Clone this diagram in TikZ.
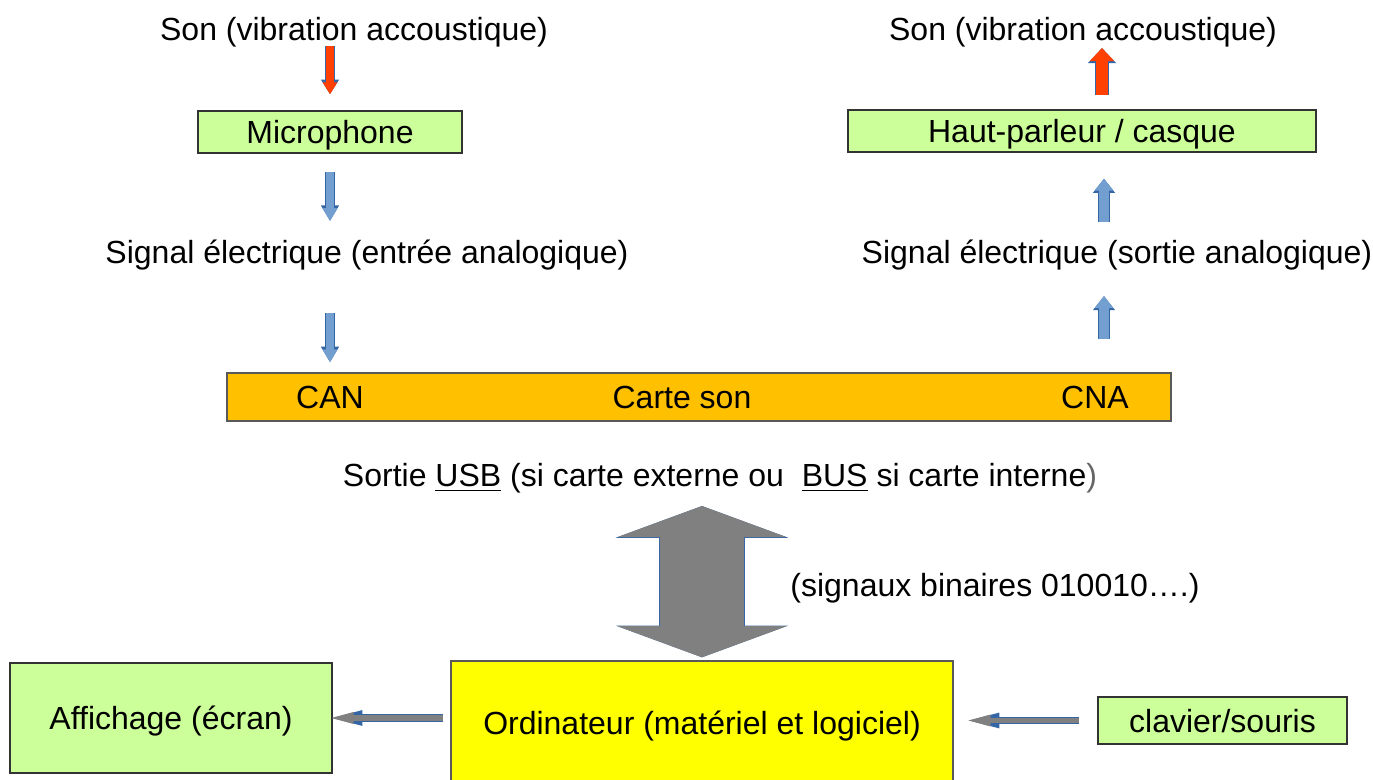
\documentclass[tikz,border=0pt]{standalone}
\usepackage{fontspec}
\setmainfont{Liberation Sans}
\usetikzlibrary{arrows.meta}
\definecolor{vertclair}{HTML}{CCFF99}
\definecolor{orangecarte}{HTML}{FFC000}
\definecolor{jauneordi}{HTML}{FFFF00}
\definecolor{rougefleche}{HTML}{FF4000}
\definecolor{bleufleche}{HTML}{729FCF}
\definecolor{grisfleche}{HTML}{808080}
\definecolor{bordfleche}{HTML}{3465A4}
\begin{document}
\begin{tikzpicture}[x=0.5pt, y=-0.5pt,
    every node/.style={font=\fontsize{16}{19}\selectfont},
    texte/.style={inner sep=0pt, anchor=base},
    boite/.style={draw=black!80, line width=0.7pt, inner sep=0pt, text depth=0pt},
    fleche/.style n args={4}{draw=#4, line width=#1,
        -{Triangle[length=0pt #3, width=0pt #2]},
        preaction={draw=bordfleche, line width=#1+0.9pt}}]
    \useasboundingbox (0,0) rectangle (1373,780);
    % chaine d'entree
    \node[texte] (son1) at (354,41) {Son (vibration accoustique)};
    \node[boite, fill=vertclair, minimum width=132pt, minimum height=21pt] (micro) at (330,132) {Microphone};
    \node[texte] (sig1) at (367,264) {Signal électrique (entrée analogique)};
    % carte son
    \node[boite, fill=orangecarte, draw=black!65, minimum width=472pt, minimum height=24pt] (carte) at (699,397) {};
    \node[texte] (can) at (330,409) {CAN};
    \node[texte] (carteson) at (682,409) {Carte son};
    \node[texte] (cna) at (1095,409) {CNA};
    % chaine de sortie
    \node[texte] (son2) at (1083,41) {Son (vibration accoustique)};
    \node[boite, fill=vertclair, minimum width=234pt, minimum height=21pt] (hp) at (1082,131) {Haut-parleur / casque};
    \node[texte] (sig2) at (1117,264) {Signal électrique (sortie analogique)};
    % liaison avec l'ordinateur
    \node[texte] (usb) at (720,487) {Sortie \underline{USB} (si carte externe ou\ \ \underline{BUS} si carte interne{\color{black!60})}};
    \node[texte] (binaire) at (995,597) {(signaux binaires 010010….)};
    \node[boite, fill=jauneordi, draw=black!65, minimum width=251pt, minimum height=62pt] (ordi) at (702,723) {Ordinateur (matériel et logiciel)};
    \node[boite, fill=vertclair, minimum width=161pt, minimum height=55pt] (affich) at (171,718) {Affichage (écran)};
    \node[boite, fill=vertclair, minimum width=124.5pt, minimum height=23.5pt] (clavier) at (1222.5,720.5) {clavier/souris};

    \draw[fleche={4pt}{1.75}{1.5}{rougefleche}, shorten <=-1pt, shorten >=8pt] (son1.south -| micro.north) -- (micro.north);
    \draw[fleche={4pt}{1.75}{1.6}{bleufleche}, shorten <=9pt, shorten >=9.5pt] (micro.south) -- (micro.south |- sig1.north);
    \draw[fleche={4pt}{1.75}{1.6}{bleufleche}, shorten <=21pt, shorten >=5pt] (sig1.south -| micro.south) -- (carte.north -| micro.south);
    \draw[fleche={5pt}{1.8}{1.2}{bleufleche}, shorten <=16.5pt, shorten >=12.5pt] (carte.north -| 1104,0) -- (sig2.south -| 1104,0);
    \draw[fleche={5pt}{1.8}{1.2}{bleufleche}, shorten <=9pt, shorten >=13pt] (sig2.north -| 1104,0) -- (hp.south -| 1104,0);
    \draw[fleche={6pt}{2}{1.1}{rougefleche}, shorten <=7pt] (hp.north -| 1102,0) -- (son2.south -| 1102,0);
    \draw[fleche={42pt}{2}{0.37}{grisfleche}, {Triangle[length=0pt 0.37, width=0pt 2]}-{Triangle[length=0pt 0.37, width=0pt 2]},
        shorten <=6pt, shorten >=1.5pt] (usb.south -| ordi.north) -- (ordi.north);
    \draw[fleche={2.75pt}{1.8}{4.9}{grisfleche}, shorten <=3.5pt, shorten >=-3pt] (ordi.west |- affich.east) -- (affich.east);
    \draw[fleche={2.75pt}{1.8}{4.9}{grisfleche}, shorten <=9pt, shorten >=5pt] (clavier.west) -- (ordi.east |- clavier.west);
\end{tikzpicture}
\end{document}
